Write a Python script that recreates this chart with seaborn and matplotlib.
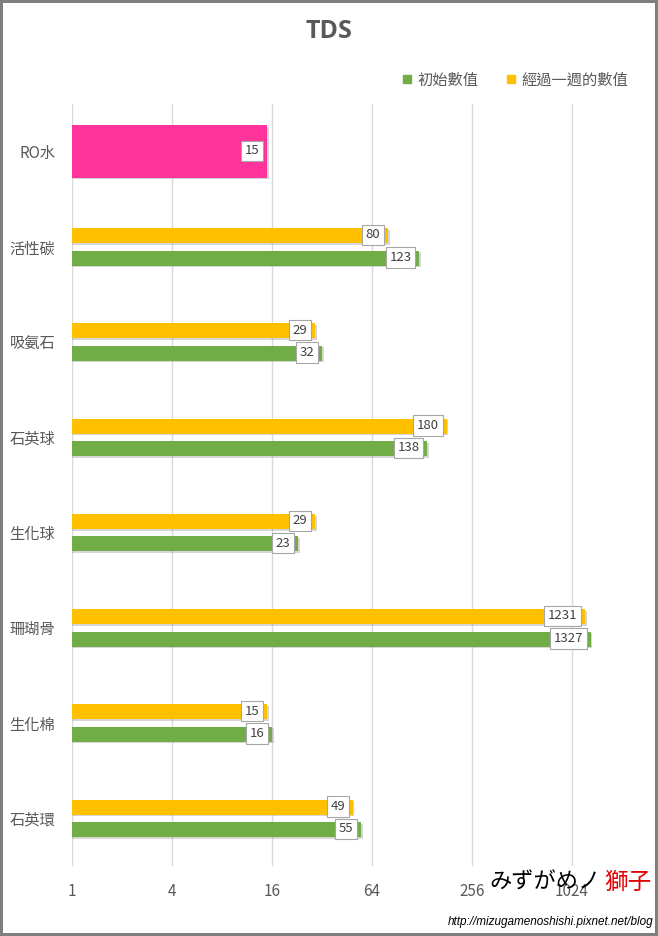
import pandas as pd
import matplotlib.pyplot as plt
import matplotlib.patheffects as pe
from matplotlib.lines import Line2D
from matplotlib.ticker import NullLocator
import seaborn as sns

# ==============================================================================
# Data
# ==============================================================================
items = ['RO水', '活性碳', '吸氨石', '石英球', '生化球', '珊瑚骨', '生化棉', '石英環']
filters = items[1:]
week_vals = [80, 29, 180, 29, 1231, 15, 49]      # 經過一週的數值
start_vals = [123, 32, 138, 23, 1327, 16, 55]    # 初始數值
ro_val = [15]
series = ['經過一週的數值', '初始數值']
x_ticks = [1, 4, 16, 64, 256, 1024]

df = pd.DataFrame({
    'item': filters * 2,
    'series': [series[0]] * len(filters) + [series[1]] * len(filters),
    'value': week_vals + start_vals,
})
ro_df = pd.DataFrame({'item': ['RO水'], 'value': ro_val})

# ==============================================================================
# Style
# ==============================================================================
sns.set_style('white')
plt.rcParams['font.family'] = ['Noto Sans CJK TC', 'DejaVu Sans']

GREEN = '#70AD47'
YELLOW = '#FFC000'
PINK = '#FF3399'
TXT = '#595959'

fig = plt.figure(figsize=(6.58, 9.36), dpi=100)
ax = fig.add_axes([72 / 658, 70 / 936, 550 / 658, 762 / 936])
ax.set_xscale('log', base=2)

sns.barplot(data=df, x='value', y='item', hue='series', order=items,
            hue_order=series, palette=[YELLOW, GREEN], orient='h',
            width=0.47, gap=0.33, legend=False, saturation=1, ax=ax)
sns.barplot(data=ro_df, x='value', y='item', order=items, color=PINK,
            orient='h', width=0.55, saturation=1, ax=ax)

shadow = [pe.SimplePatchShadow(offset=(1.2, -1.2), shadow_rgbFace='#8c8c8c', alpha=0.35),
          pe.Normal()]
for p in ax.patches:
    p.set_path_effects(shadow)
    p.set_edgecolor('none')

# value labels at bar ends
for p in ax.patches:
    w = p.get_width()
    if not w > 0:
        continue
    yc = p.get_y() + p.get_height() / 2
    ax.annotate(f'{w:.0f}', xy=(w, yc), xytext=(-5.5, 0.5), textcoords='offset points',
                ha='right', va='center', fontsize=9.5, color='#404040',
                bbox=dict(boxstyle='square,pad=0.28', fc='white', ec='#A6A6A6', lw=0.8))

ax.set_xlim(1, 2048)
ax.set_ylim(len(items) - 0.5, -0.5)
ax.set_xticks(x_ticks)
ax.set_xticklabels([str(t) for t in x_ticks])
ax.xaxis.set_minor_locator(NullLocator())
ax.grid(axis='x', color='#D9D9D9', lw=1)
ax.set_axisbelow(True)
ax.tick_params(axis='x', length=0, pad=12, labelsize=11, labelcolor=TXT)
ax.tick_params(axis='y', length=0, pad=12, labelsize=11, labelcolor=TXT)
ax.set_xlabel('')
ax.set_ylabel('')
for s in ax.spines.values():
    s.set_visible(False)

# title and legend
fig.text(0.5, 1 - 32 / 936, 'TDS', ha='center', va='center', fontsize=18,
         fontweight='bold', color=TXT, family=['Open Sans', 'DejaVu Sans'])
handles = [Line2D([], [], ls='', marker='s', ms=5.5, color=GREEN, label='初始數值'),
           Line2D([], [], ls='', marker='s', ms=5.5, color=YELLOW, label='經過一週的數值')]
fig.legend(handles=handles, loc='center right', bbox_to_anchor=(0.976, 1 - 80 / 936),
           ncol=2, frameon=False, fontsize=11, labelcolor=TXT, handlelength=0.6,
           handletextpad=0.4, columnspacing=1.8)

# watermark
fig.text(652 / 658, 1 - 882 / 936, '獅子', ha='right', va='center', fontsize=17,
         color='#E00000', family=['Noto Sans CJK JP', 'DejaVu Sans'])
fig.text(601 / 658, 1 - 882 / 936, 'みずがめノ', ha='right', va='center', fontsize=16,
         color='black', family=['Noto Sans CJK JP', 'DejaVu Sans'])
fig.text(653 / 658, 1 - 922 / 936, 'http://mizugamenoshishi.pixnet.net/blog', ha='right',
         va='center', fontsize=8.5, style='italic', color='black',
         family=['Liberation Sans Narrow', 'Liberation Sans', 'DejaVu Sans'])

fig.patch.set_edgecolor('#7f7f7f')
fig.patch.set_linewidth(3)

plt.savefig('out.png', dpi=100)
